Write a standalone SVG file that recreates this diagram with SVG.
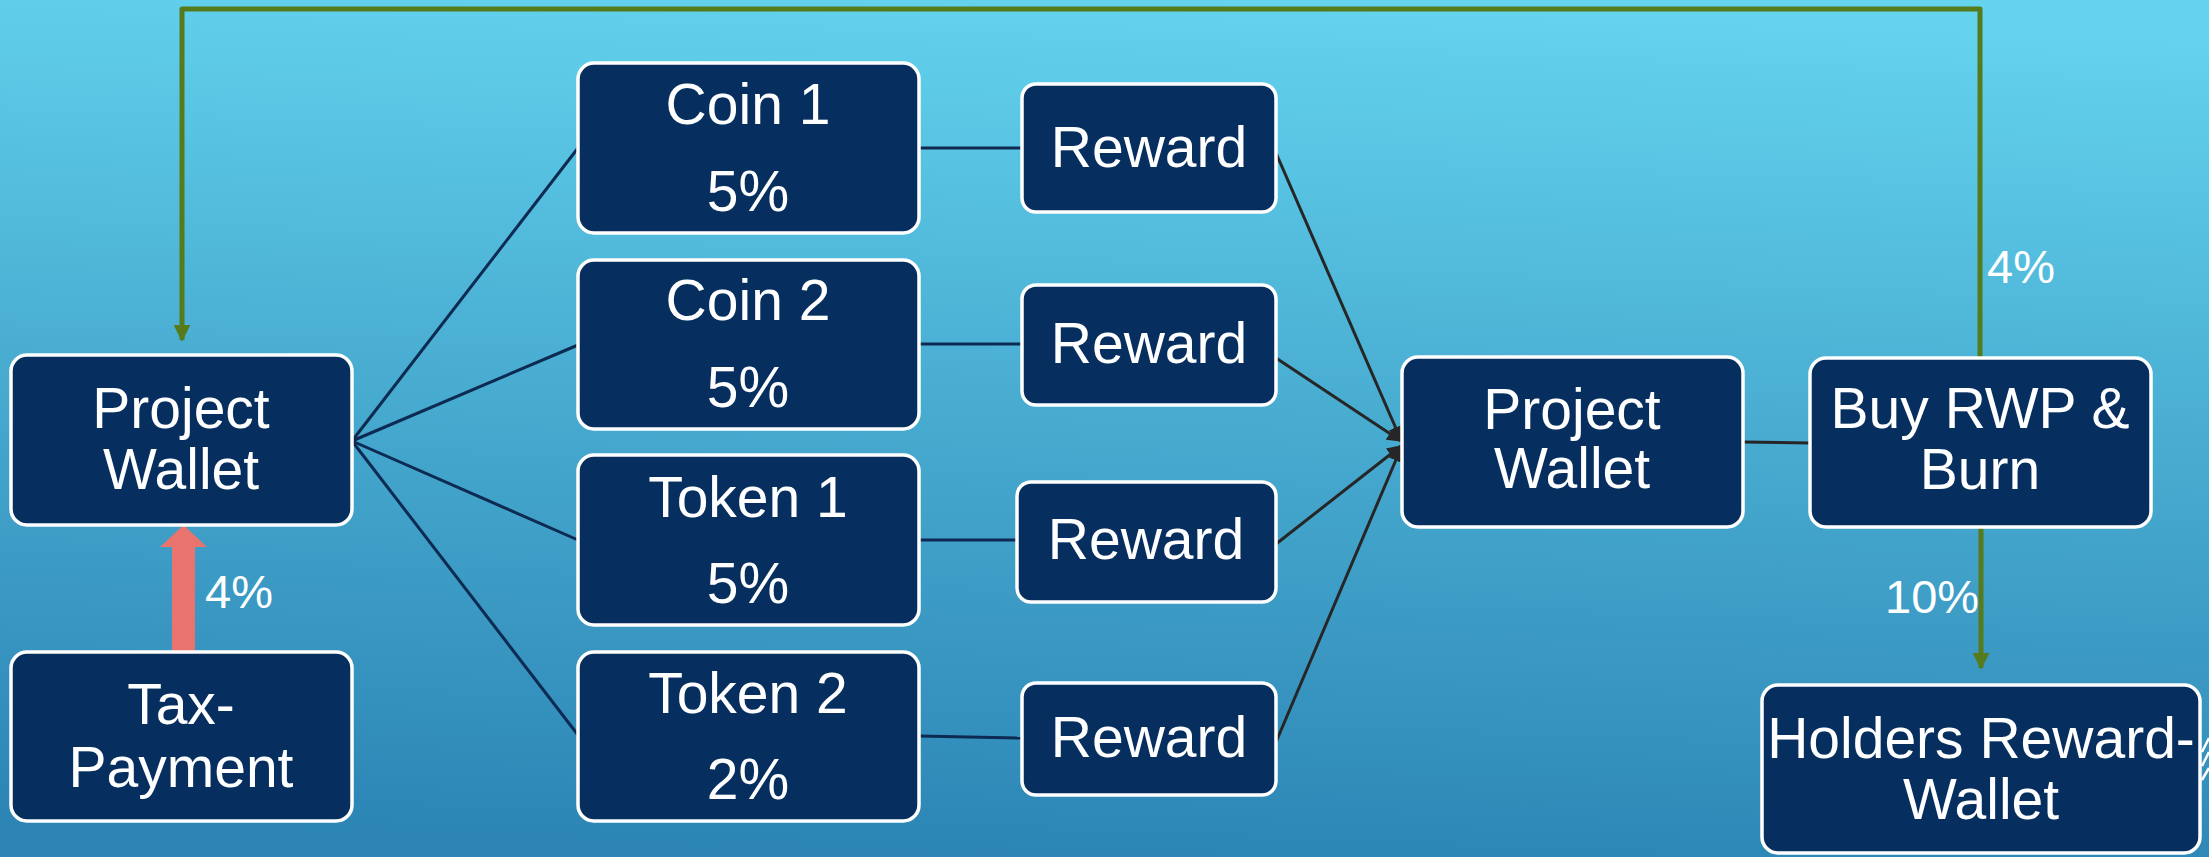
<svg xmlns="http://www.w3.org/2000/svg" width="2209" height="857" viewBox="0 0 2209 857">
<defs>
<linearGradient id="bg" x1="0.55" y1="0" x2="0.45" y2="1">
<stop offset="0" stop-color="#63D3EE"/>
<stop offset="0.5" stop-color="#47AACF"/>
<stop offset="1" stop-color="#2C85B5"/>
</linearGradient>
<marker id="ahDark" viewBox="0 0 10 10" refX="9" refY="5" markerWidth="5" markerHeight="5" orient="auto" markerUnits="strokeWidth">
<path d="M0,0 L10,5 L0,10 z" fill="#262626"/>
</marker>
<marker id="ahGreen" viewBox="0 0 10 10" refX="9" refY="5" markerWidth="3.4" markerHeight="3.4" orient="auto" markerUnits="strokeWidth">
<path d="M0,0 L10,5 L0,10 z" fill="#557B1C"/>
</marker>
<style>
.box{fill:#062F60;stroke:#FFFFFF;stroke-width:3.5}
.t{font-family:"Liberation Sans",Arial,sans-serif;font-size:57px;fill:#FFFFFF;text-anchor:middle}
.lbl{font-family:"Liberation Sans",Arial,sans-serif;font-size:47px;fill:#FFFFFF}
.navy{stroke:#0C2A52;stroke-width:3;fill:none}
.dark{stroke:#262626;stroke-width:3;fill:none}
.green{stroke:#557B1C;stroke-width:5;fill:none}
</style>
</defs>
<rect x="0" y="0" width="2209" height="857" fill="url(#bg)"/>

<g id="connectors">
<polyline class="green" points="1980,358 1980,9 182,9 182,340" marker-end="url(#ahGreen)" stroke-linejoin="round"/>
<line class="green" x1="1981" y1="522" x2="1981" y2="668" marker-end="url(#ahGreen)"/>
<line class="navy" x1="352" y1="441" x2="578" y2="148"/>
<line class="navy" x1="352" y1="441" x2="578" y2="345"/>
<line class="navy" x1="352" y1="441" x2="578" y2="540"/>
<line class="navy" x1="352" y1="441" x2="578" y2="735"/>
<line class="navy" x1="919" y1="148" x2="1022" y2="148"/>
<line class="navy" x1="919" y1="344" x2="1022" y2="344"/>
<line class="navy" x1="919" y1="540" x2="1017" y2="540"/>
<line class="navy" x1="919" y1="736" x2="1022" y2="738"/>
<line class="dark" x1="1276" y1="153" x2="1401" y2="440" marker-end="url(#ahDark)"/>
<line class="dark" x1="1276" y1="358" x2="1401" y2="441" marker-end="url(#ahDark)"/>
<line class="dark" x1="1276" y1="544" x2="1401" y2="446" marker-end="url(#ahDark)"/>
<line class="dark" x1="1276" y1="742" x2="1401" y2="448" marker-end="url(#ahDark)"/>
<line class="dark" x1="1743" y1="442" x2="1810" y2="443"/>
<polygon points="172,652 195,652 195,547 207,547 183.5,525 160,547 172,547" fill="#E8736F"/>
<g stroke="#FFFFFF" stroke-width="2.5" fill="none">
<line x1="2202" y1="752" x2="2209" y2="738"/>
<line x1="2202" y1="766" x2="2209" y2="752"/>
<line x1="2202" y1="780" x2="2209" y2="768"/>
</g>
</g>

<g id="pw-left">
<rect class="box" x="11" y="355" width="341" height="170" rx="16"/>
<text class="t" x="181" y="428">Project</text>
<text class="t" x="181" y="489">Wallet</text>
</g>
<g id="tax-payment">
<rect class="box" x="11" y="652" width="341" height="169" rx="16"/>
<text class="t" x="181" y="724">Tax-</text>
<text class="t" x="181" y="787">Payment</text>
</g>
<text class="lbl" x="205" y="608">4%</text>

<g id="coin1">
<rect class="box" x="578" y="63" width="341" height="170" rx="16"/>
<text class="t" x="748" y="124">Coin 1</text>
<text class="t" x="748" y="211">5%</text>
</g>
<g id="coin2">
<rect class="box" x="578" y="260" width="341" height="169" rx="16"/>
<text class="t" x="748" y="320">Coin 2</text>
<text class="t" x="748" y="407">5%</text>
</g>
<g id="token1">
<rect class="box" x="578" y="455" width="341" height="170" rx="16"/>
<text class="t" x="748" y="517">Token 1</text>
<text class="t" x="748" y="603">5%</text>
</g>
<g id="token2">
<rect class="box" x="578" y="652" width="341" height="169" rx="16"/>
<text class="t" x="748" y="713">Token 2</text>
<text class="t" x="748" y="799">2%</text>
</g>

<g id="reward1">
<rect class="box" x="1022" y="84" width="254" height="128" rx="14"/>
<text class="t" x="1149" y="167">Reward</text>
</g>
<g id="reward2">
<rect class="box" x="1022" y="285" width="254" height="120" rx="14"/>
<text class="t" x="1149" y="363">Reward</text>
</g>
<g id="reward3">
<rect class="box" x="1017" y="482" width="259" height="120" rx="14"/>
<text class="t" x="1146" y="559">Reward</text>
</g>
<g id="reward4">
<rect class="box" x="1022" y="683" width="254" height="112" rx="14"/>
<text class="t" x="1149" y="757">Reward</text>
</g>

<g id="pw-right">
<rect class="box" x="1402" y="357" width="341" height="170" rx="16"/>
<text class="t" x="1572" y="429">Project</text>
<text class="t" x="1572" y="488">Wallet</text>
</g>
<g id="buy-burn">
<rect class="box" x="1810" y="358" width="341" height="169" rx="16"/>
<text class="t" x="1980" y="428">Buy RWP &amp;</text>
<text class="t" x="1980" y="489">Burn</text>
</g>
<text class="lbl" x="1987" y="283">4%</text>
<text class="lbl" x="1885" y="613">10%</text>
<g id="holders">
<rect class="box" x="1762" y="685" width="438" height="168" rx="16"/>
<text class="t" x="1981" y="758">Holders Reward-</text>
<text class="t" x="1981" y="819">Wallet</text>
</g>
</svg>
